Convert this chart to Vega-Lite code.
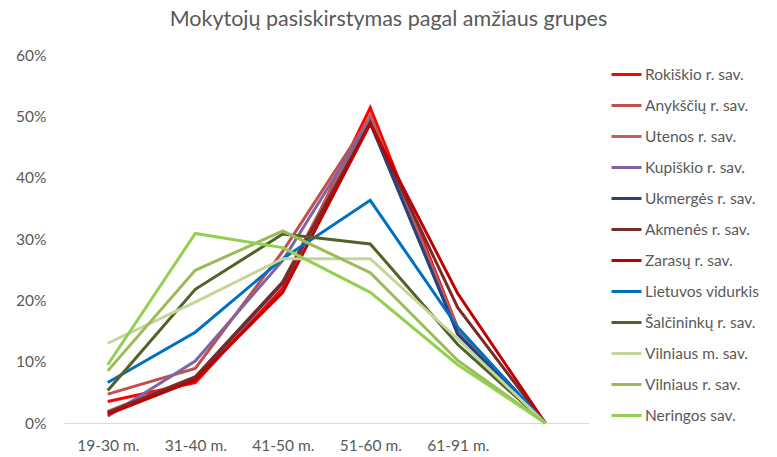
{
  "$schema": "https://vega.github.io/schema/vega-lite/v6.json",
  "autosize": "none",
  "width": 525,
  "height": 368,
  "padding": {"left": 64, "top": 55, "right": 188, "bottom": 34},
  "background": "white",
  "title": {
    "text": "Mokytojų pasiskirstymas pagal amžiaus grupes",
    "anchor": "middle",
    "dx": 62,
    "offset": 18,
    "font": "Lato",
    "fontSize": 21.5,
    "fontWeight": "normal",
    "color": "#595959"
  },
  "config": {
    "view": {"stroke": null},
    "font": "Lato"
  },
  "data": {
    "values": [
      {"sav": "Rokiškio r. sav.", "grupe": "19-30 m.", "v": 0.035},
      {"sav": "Rokiškio r. sav.", "grupe": "31-40 m.", "v": 0.066},
      {"sav": "Rokiškio r. sav.", "grupe": "41-50 m.", "v": 0.220},
      {"sav": "Rokiškio r. sav.", "grupe": "51-60 m.", "v": 0.514},
      {"sav": "Rokiškio r. sav.", "grupe": "61-91 m.", "v": 0.155},
      {"sav": "Rokiškio r. sav.", "grupe": "", "v": 0},
      {"sav": "Anykščių r. sav.", "grupe": "19-30 m.", "v": 0.047},
      {"sav": "Anykščių r. sav.", "grupe": "31-40 m.", "v": 0.089},
      {"sav": "Anykščių r. sav.", "grupe": "41-50 m.", "v": 0.280},
      {"sav": "Anykščių r. sav.", "grupe": "51-60 m.", "v": 0.499},
      {"sav": "Anykščių r. sav.", "grupe": "61-91 m.", "v": 0.145},
      {"sav": "Anykščių r. sav.", "grupe": "", "v": 0},
      {"sav": "Utenos r. sav.", "grupe": "19-30 m.", "v": 0.019},
      {"sav": "Utenos r. sav.", "grupe": "31-40 m.", "v": 0.075},
      {"sav": "Utenos r. sav.", "grupe": "41-50 m.", "v": 0.230},
      {"sav": "Utenos r. sav.", "grupe": "51-60 m.", "v": 0.502},
      {"sav": "Utenos r. sav.", "grupe": "61-91 m.", "v": 0.153},
      {"sav": "Utenos r. sav.", "grupe": "", "v": 0},
      {"sav": "Kupiškio r. sav.", "grupe": "19-30 m.", "v": 0.011},
      {"sav": "Kupiškio r. sav.", "grupe": "31-40 m.", "v": 0.101},
      {"sav": "Kupiškio r. sav.", "grupe": "41-50 m.", "v": 0.265},
      {"sav": "Kupiškio r. sav.", "grupe": "51-60 m.", "v": 0.494},
      {"sav": "Kupiškio r. sav.", "grupe": "61-91 m.", "v": 0.146},
      {"sav": "Kupiškio r. sav.", "grupe": "", "v": 0},
      {"sav": "Ukmergės r. sav.", "grupe": "19-30 m.", "v": 0.017},
      {"sav": "Ukmergės r. sav.", "grupe": "31-40 m.", "v": 0.073},
      {"sav": "Ukmergės r. sav.", "grupe": "41-50 m.", "v": 0.228},
      {"sav": "Ukmergės r. sav.", "grupe": "51-60 m.", "v": 0.489},
      {"sav": "Ukmergės r. sav.", "grupe": "61-91 m.", "v": 0.145},
      {"sav": "Ukmergės r. sav.", "grupe": "", "v": 0},
      {"sav": "Akmenės r. sav.", "grupe": "19-30 m.", "v": 0.017},
      {"sav": "Akmenės r. sav.", "grupe": "31-40 m.", "v": 0.075},
      {"sav": "Akmenės r. sav.", "grupe": "41-50 m.", "v": 0.230},
      {"sav": "Akmenės r. sav.", "grupe": "51-60 m.", "v": 0.489},
      {"sav": "Akmenės r. sav.", "grupe": "61-91 m.", "v": 0.188},
      {"sav": "Akmenės r. sav.", "grupe": "", "v": 0},
      {"sav": "Zarasų r. sav.", "grupe": "19-30 m.", "v": 0.014},
      {"sav": "Zarasų r. sav.", "grupe": "31-40 m.", "v": 0.070},
      {"sav": "Zarasų r. sav.", "grupe": "41-50 m.", "v": 0.213},
      {"sav": "Zarasų r. sav.", "grupe": "51-60 m.", "v": 0.488},
      {"sav": "Zarasų r. sav.", "grupe": "61-91 m.", "v": 0.211},
      {"sav": "Zarasų r. sav.", "grupe": "", "v": 0},
      {"sav": "Lietuvos vidurkis", "grupe": "19-30 m.", "v": 0.066},
      {"sav": "Lietuvos vidurkis", "grupe": "31-40 m.", "v": 0.148},
      {"sav": "Lietuvos vidurkis", "grupe": "41-50 m.", "v": 0.268},
      {"sav": "Lietuvos vidurkis", "grupe": "51-60 m.", "v": 0.363},
      {"sav": "Lietuvos vidurkis", "grupe": "61-91 m.", "v": 0.156},
      {"sav": "Lietuvos vidurkis", "grupe": "", "v": 0},
      {"sav": "Šalčininkų r. sav.", "grupe": "19-30 m.", "v": 0.053},
      {"sav": "Šalčininkų r. sav.", "grupe": "31-40 m.", "v": 0.218},
      {"sav": "Šalčininkų r. sav.", "grupe": "41-50 m.", "v": 0.308},
      {"sav": "Šalčininkų r. sav.", "grupe": "51-60 m.", "v": 0.292},
      {"sav": "Šalčininkų r. sav.", "grupe": "61-91 m.", "v": 0.128},
      {"sav": "Šalčininkų r. sav.", "grupe": "", "v": 0},
      {"sav": "Vilniaus m. sav.", "grupe": "19-30 m.", "v": 0.130},
      {"sav": "Vilniaus m. sav.", "grupe": "31-40 m.", "v": 0.197},
      {"sav": "Vilniaus m. sav.", "grupe": "41-50 m.", "v": 0.268},
      {"sav": "Vilniaus m. sav.", "grupe": "51-60 m.", "v": 0.268},
      {"sav": "Vilniaus m. sav.", "grupe": "61-91 m.", "v": 0.137},
      {"sav": "Vilniaus m. sav.", "grupe": "", "v": 0},
      {"sav": "Vilniaus r. sav.", "grupe": "19-30 m.", "v": 0.085},
      {"sav": "Vilniaus r. sav.", "grupe": "31-40 m.", "v": 0.249},
      {"sav": "Vilniaus r. sav.", "grupe": "41-50 m.", "v": 0.313},
      {"sav": "Vilniaus r. sav.", "grupe": "51-60 m.", "v": 0.245},
      {"sav": "Vilniaus r. sav.", "grupe": "61-91 m.", "v": 0.102},
      {"sav": "Vilniaus r. sav.", "grupe": "", "v": 0},
      {"sav": "Neringos sav.", "grupe": "19-30 m.", "v": 0.095},
      {"sav": "Neringos sav.", "grupe": "31-40 m.", "v": 0.309},
      {"sav": "Neringos sav.", "grupe": "41-50 m.", "v": 0.286},
      {"sav": "Neringos sav.", "grupe": "51-60 m.", "v": 0.213},
      {"sav": "Neringos sav.", "grupe": "61-91 m.", "v": 0.095},
      {"sav": "Neringos sav.", "grupe": "", "v": 0}
    ]
  },
  "mark": {"type": "line", "strokeWidth": 3, "strokeJoin": "miter"},
  "encoding": {
    "x": {
      "field": "grupe",
      "type": "ordinal",
      "sort": ["19-30 m.", "31-40 m.", "41-50 m.", "51-60 m.", "61-91 m.", ""],
      "scale": {"type": "point", "padding": 0.5},
      "axis": {
        "title": null,
        "labelAngle": 0,
        "ticks": false,
        "tickSize": 0,
        "domainColor": "#D9D9D9",
        "domainWidth": 1,
        "labelPadding": 15,
        "labelFont": "Lato",
        "labelFontSize": 15.5,
        "labelColor": "#595959",
        "grid": false
      }
    },
    "y": {
      "field": "v",
      "type": "quantitative",
      "scale": {"domain": [0, 0.6], "nice": false},
      "axis": {
        "title": null,
        "format": ".0%",
        "values": [0, 0.1, 0.2, 0.3, 0.4, 0.5, 0.6],
        "domain": false,
        "ticks": false,
        "tickSize": 0,
        "grid": false,
        "labelPadding": 18,
        "labelFont": "Lato",
        "labelFontSize": 15.5,
        "labelColor": "#595959"
      }
    },
    "color": {
      "field": "sav",
      "type": "nominal",
      "sort": ["Rokiškio r. sav.", "Anykščių r. sav.", "Utenos r. sav.", "Kupiškio r. sav.", "Ukmergės r. sav.", "Akmenės r. sav.", "Zarasų r. sav.", "Lietuvos vidurkis", "Šalčininkų r. sav.", "Vilniaus m. sav.", "Vilniaus r. sav.", "Neringos sav."],
      "scale": {
        "domain": ["Rokiškio r. sav.", "Anykščių r. sav.", "Utenos r. sav.", "Kupiškio r. sav.", "Ukmergės r. sav.", "Akmenės r. sav.", "Zarasų r. sav.", "Lietuvos vidurkis", "Šalčininkų r. sav.", "Vilniaus m. sav.", "Vilniaus r. sav.", "Neringos sav."],
        "range": ["#FF0000", "#C0504D", "#C55A57", "#8064A2", "#264478", "#772C2A", "#C00000", "#0070C0", "#4F6228", "#C3D69B", "#9BBB59", "#92D050"]
      },
      "legend": {
        "title": null,
        "orient": "none",
        "legendX": 546,
        "legendY": 3,
        "symbolType": "stroke",
        "symbolSize": 900,
        "symbolStrokeWidth": 3,
        "labelOffset": 2,
        "labelFont": "Lato",
        "labelFontSize": 15.5,
        "labelColor": "#595959",
        "rowPadding": 6,
        "padding": 0
      }
    }
  }
}
